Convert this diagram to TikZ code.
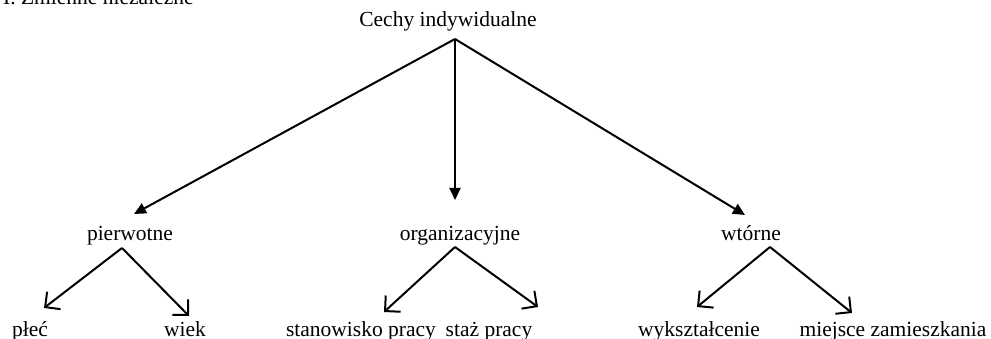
\documentclass[tikz,border=0pt]{standalone}
\usepackage{fontspec}
\setmainfont{Liberation Serif}
\usetikzlibrary{arrows.meta}
\begin{document}
\begin{tikzpicture}[x=1pt,y=-1pt,
  lbl/.style={inner sep=0pt,anchor=base,font=\fontsize{21.5}{25}\selectfont},
  mainarrow/.style={line width=2pt,-{Triangle[length=12pt,width=11pt]}},
  subarrow/.style={line width=2pt,-{Straight Barb[length=11pt,width=22pt,line width=2pt]}}]
\useasboundingbox (0,0) rectangle (991,339);
\node[lbl,anchor=base west] (title) at (3,5) {I. Zmienne niezależne};
\node[lbl] (cechy) at (448,27) {Cechy indywidualne};
\node[lbl] (pierw) at (130,241) {pierwotne};
\node[lbl] (org) at (460,241) {organizacyjne};
\node[lbl] (wt) at (751,241) {wtórne};
\node[lbl] (plec) at (30,336) {płeć};
\node[lbl] (wiek) at (185,336) {wiek};
\node[lbl] (stan) at (361,336) {stanowisko pracy};
\node[lbl] (staz) at (489,336) {staż pracy};
\node[lbl] (wyk) at (699,336) {wykształcenie};
\node[lbl] (miej) at (893,336) {miejsce zamieszkania};
% apex / tip coordinates
\coordinate (a0) at (455,39);
\coordinate (a1) at (122,248);
\coordinate (a2) at (455,247);
\coordinate (a3) at (770,247);
\coordinate (t1) at (134,214);
\coordinate (t2) at (455,200);
\coordinate (t3) at (745,215);
\coordinate (p1) at (44,308);
\coordinate (p2) at (189,316);
\coordinate (o1) at (384,312);
\coordinate (o2) at (538,307);
\coordinate (w1) at (697,307);
\coordinate (w2) at (852,313);
\draw[mainarrow] (a0) -- (t1);
\draw[mainarrow] (a0) -- (t2);
\draw[mainarrow] (a0) -- (t3);
\draw[subarrow] (a1) -- (p1);
\draw[subarrow] (a1) -- (p2);
\draw[subarrow] (a2) -- (o1);
\draw[subarrow] (a2) -- (o2);
\draw[subarrow] (a3) -- (w1);
\draw[subarrow] (a3) -- (w2);
\end{tikzpicture}
\end{document}
